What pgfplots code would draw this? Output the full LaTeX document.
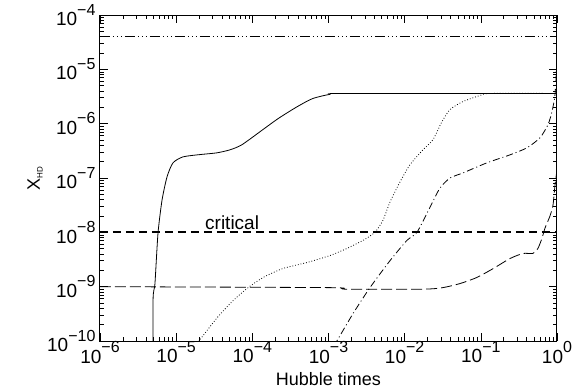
\documentclass[border=0pt]{standalone}
\usepackage{pgfplots}
\pgfplotsset{compat=1.18}
\usepackage{fontspec}
\setmainfont{Liberation Sans}
\newcommand{\tp}[1]{10\raisebox{0.55em}{\fontsize{16}{16}\selectfont #1}}
\begin{document}
\begin{tikzpicture}
\useasboundingbox (-100pt,-49pt) rectangle (481pt,341pt);
\begin{axis}[at={(0,0)}, anchor=south west, scale only axis,
  width=457pt, height=326pt,
  xmode=log, ymode=log, xmin=1e-6, xmax=1, ymin=1e-10, ymax=1e-4,
  xtick={1e-6,1e-5,1e-4,1e-3,1e-2,1e-1,1},
  xticklabels={\tp{−6},\tp{−5},\tp{−4},\tp{−3},\tp{−2},\tp{−1},\tp{0}},
  ytick={1e-10,1e-9,1e-8,1e-7,1e-6,1e-5,1e-4},
  yticklabels={\tp{−10},\tp{−9},\tp{−8},\tp{−7},\tp{−6},\tp{−5},\tp{−4}},
  tick label style={font=\fontsize{19}{22}\selectfont},
  xticklabel style={yshift=3pt},
  yticklabel style={xshift=-1pt},
  label style={font=\fontsize{18}{22}\selectfont},
  xlabel={Hubble times},
  xlabel style={at={(axis description cs:0.5,-0.117)}, anchor=center, inner sep=0pt},
  ylabel={X\textsubscript{\fontsize{8}{8}\selectfont HD}},
  ylabel style={at={(axis description cs:-0.142,0.5)}, anchor=center},
  major tick length=8pt, minor tick length=4pt,
  axis line style={line width=1pt},
  every tick/.style={black, line width=0.6pt},
  clip=true,
]
% dash-triple-dot constant line
\addplot[black, line width=0.7pt, dash pattern=on 10pt off 3pt on 1pt off 3pt on 1pt off 3pt on 1pt off 3pt]
  coordinates {(1e-6,4.1e-5) (1,4.1e-5)};
% critical
\addplot[black, line width=1.8pt, dash pattern=on 8pt off 5pt]
  coordinates {(1e-6,1e-8) (1,1e-8)};
\node[anchor=base west, inner sep=0pt, font=\fontsize{19}{22}\selectfont] at (axis cs:2.39e-5,1.13e-8) {critical};
% solid
\addplot[black, line width=0.8pt, smooth, tension=0.4] coordinates {
 (4.97e-6,1e-11) (4.97e-6,5.5e-10) (5.27e-6,1.15e-9) (5.77e-6,9.5e-9)
 (6.52e-6,3.9e-8) (7.59e-6,1.05e-7) (9.08e-6,1.9e-7) (1.23e-5,2.45e-7)
 (2.06e-5,2.7e-7) (3.4e-5,2.9e-7) (5.09e-5,3.3e-7) (7.31e-5,4.1e-7) (1.38e-4,7.8e-7)
 (2.2e-4,1.25e-6) (3.85e-4,2.04e-6) (6.2e-4,2.9e-6) (1.05e-3,3.47e-6)
 (1.66e-3,3.6e-6) (1,3.6e-6)};
% dotted
\addplot[black, line width=0.8pt, dash pattern=on 0.8pt off 2pt, smooth, tension=0.4] coordinates {
 (1.77e-5,8.1e-11) (3.44e-5,2.67e-10) (5.57e-5,5.5e-10) (8.77e-5,9.57e-10)
 (1.38e-4,1.47e-9) (2.52e-4,2.16e-9) (5.21e-4,2.78e-9) (1.05e-3,3.75e-9)
 (1.75e-3,5.06e-9) (2.84e-3,7.11e-9) (4.07e-3,1.0e-8) (5.19e-3,1.67e-8)
 (6.41e-3,3.6e-8) (8.67e-3,8.43e-8) (1.17e-2,1.74e-7) (1.74e-2,3.31e-7)
 (2.35e-2,5.06e-7) (3.09e-2,1.09e-6) (3.94e-2,1.82e-6) (5.82e-2,2.55e-6)
 (9.77e-2,3.3e-6) (0.132,3.6e-6) (1,3.6e-6)};
% dash-dot
\addplot[black, line width=0.8pt, dash pattern=on 7pt off 3pt on 1pt off 3pt, smooth, tension=0.4] coordinates {
 (1.18e-3,8.1e-11) (2.09e-3,3.16e-10) (3.5e-3,9.57e-10) (6.41e-3,3.0e-9)
 (1.07e-2,7.1e-9) (1.45e-2,1.0e-8) (2.15e-2,2.9e-8) (2.9e-2,6.5e-8)
 (3.94e-2,1.0e-7) (5.82e-2,1.24e-7) (0.12,1.9e-7) (0.242,2.67e-7)
 (0.404,3.6e-7) (0.598,5.5e-7) (0.762,9.6e-7) (0.86,1.67e-6)
 (0.942,3.44e-6) (1,1.53e-5)};
% thin dashed
\addplot[black, line width=0.8pt, dash pattern=on 11pt off 4pt, smooth, tension=0.4] coordinates {
 (1e-6,1e-9) (1.05e-3,9.6e-10) (1.66e-3,9.0e-10) (1.74e-2,9.0e-10)
 (3.16e-2,9.6e-10) (5.32e-2,1.14e-9) (8.9e-2,1.48e-9) (0.145,2.15e-9)
 (0.242,3.3e-9) (0.357,4.08e-9) (0.484,4.1e-9) (0.562,5.06e-9)
 (0.635,7.76e-9) (0.695,1.19e-8) (0.809,2.0e-8) (0.886,3.16e-8)
 (0.942,7.4e-8) (1,1.4e-7)};
\end{axis}
\end{tikzpicture}
\end{document}
